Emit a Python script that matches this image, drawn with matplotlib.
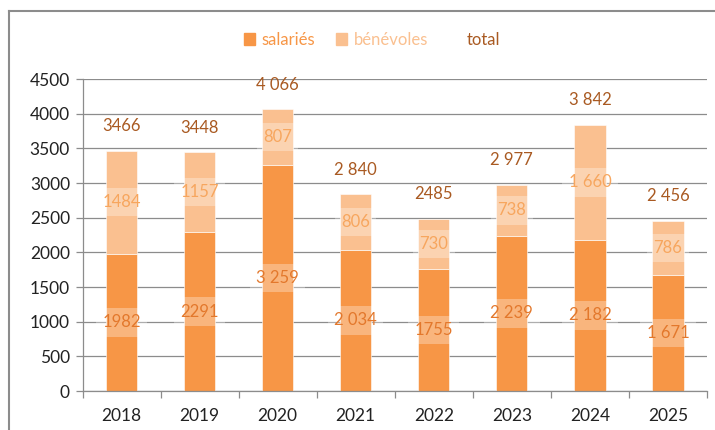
import numpy as np
import matplotlib.pyplot as plt
from matplotlib.patches import Patch
from matplotlib.lines import Line2D

# values
years = ["2018", "2019", "2020", "2021", "2022", "2023", "2024", "2025"]
salaries = [1982, 2291, 3259, 2034, 1755, 2239, 2182, 1671]
benevoles = [1484, 1157, 807, 806, 730, 738, 1660, 786]
totals = [3466, 3448, 4066, 2840, 2485, 2977, 3842, 2456]

sal_labels = ["1982", "2291", "3 259", "2 034", "1755", "2 239", "2 182", "1 671"]
ben_labels = ["1484", "1157", "807", "806", "730", "738", "1 660", "786"]
tot_labels = ["3466", "3448", "4 066", "2 840", "2485", "2 977", "3 842", "2 456"]

c_sal = "#F79646"
c_ben = "#FAC090"
c_sal_txt = "#E3782C"
c_ben_txt = "#F7A65E"
c_tot_txt = "#A95A22"
grey = "#8C8C8C"

plt.rcParams['font.family'] = ['Lato', 'DejaVu Sans']

fig = plt.figure(figsize=(7.15, 4.3), dpi=100)
ax = fig.add_axes([82.5 / 715, 1 - 391 / 430, (707 - 82.5) / 715, (391 - 79) / 430])

x = np.arange(len(years))
w = 0.4
ax.bar(x, salaries, w, color=c_sal, edgecolor="white", linewidth=0.4, zorder=2)
ax.bar(x, benevoles, w, bottom=salaries, color=c_ben, edgecolor="white", linewidth=0.4, zorder=2)

# labels inside the bars sit on a pale, see-through box
box = dict(boxstyle="square,pad=0.38", facecolor="white", edgecolor="none", alpha=0.3)
for i in range(len(years)):
    ax.text(x[i], salaries[i] / 2, sal_labels[i], ha="center", va="center",
            color=c_sal_txt, fontsize=12, bbox=box, zorder=3)
    ax.text(x[i], salaries[i] + benevoles[i] / 2, ben_labels[i], ha="center", va="center",
            color=c_ben_txt, fontsize=12, bbox=box, zorder=3)
    ax.annotate(tot_labels[i], (x[i], totals[i]), xytext=(0, 17.5), textcoords="offset points",
                ha="center", va="center", color=c_tot_txt, fontsize=12, zorder=3)

ax.set_xlim(-0.5, len(years) - 0.5)
ax.set_ylim(0, 4500)
ax.set_yticks(np.arange(0, 4501, 500))
ax.yaxis.grid(True, color=grey, linewidth=0.9, zorder=0)
ax.set_axisbelow(True)

ax.set_xticks(x)
ax.set_xticklabels(years)
ax.set_xticks(np.arange(-0.5, len(years)), minor=True)
ax.tick_params(axis="x", which="major", length=0, labelsize=12.5, pad=12, labelcolor="#222222")
ax.tick_params(axis="x", which="minor", length=5, color=grey, width=0.9)
ax.tick_params(axis="y", length=5, color=grey, width=0.9, labelsize=12.5, pad=4, labelcolor="#222222")

for s in ["top", "right"]:
    ax.spines[s].set_visible(False)
ax.spines["left"].set_color(grey)
ax.spines["bottom"].set_color(grey)
ax.spines["left"].set_linewidth(0.9)
ax.spines["bottom"].set_linewidth(0.9)

handles = [Patch(color=c_sal), Patch(color=c_ben), Line2D([], [], color="none")]
fig.legend(handles, ["salariés", "bénévoles", "total"], loc="center", bbox_to_anchor=(0.52, 0.907),
           ncol=3, frameon=False, fontsize=12, handlelength=0.7, handleheight=0.7,
           handletextpad=0.4, columnspacing=1.2, labelcolor=[c_sal, c_ben, c_tot_txt])

# outer frame (left and top edges only visible)
fig.add_artist(Line2D([9 / 715, 9 / 715], [0, 1 - 11 / 430], color=grey, linewidth=1.5))
fig.add_artist(Line2D([9 / 715, 1], [1 - 11 / 430, 1 - 11 / 430], color=grey, linewidth=1.5))

fig.savefig("out.png", dpi=100)
